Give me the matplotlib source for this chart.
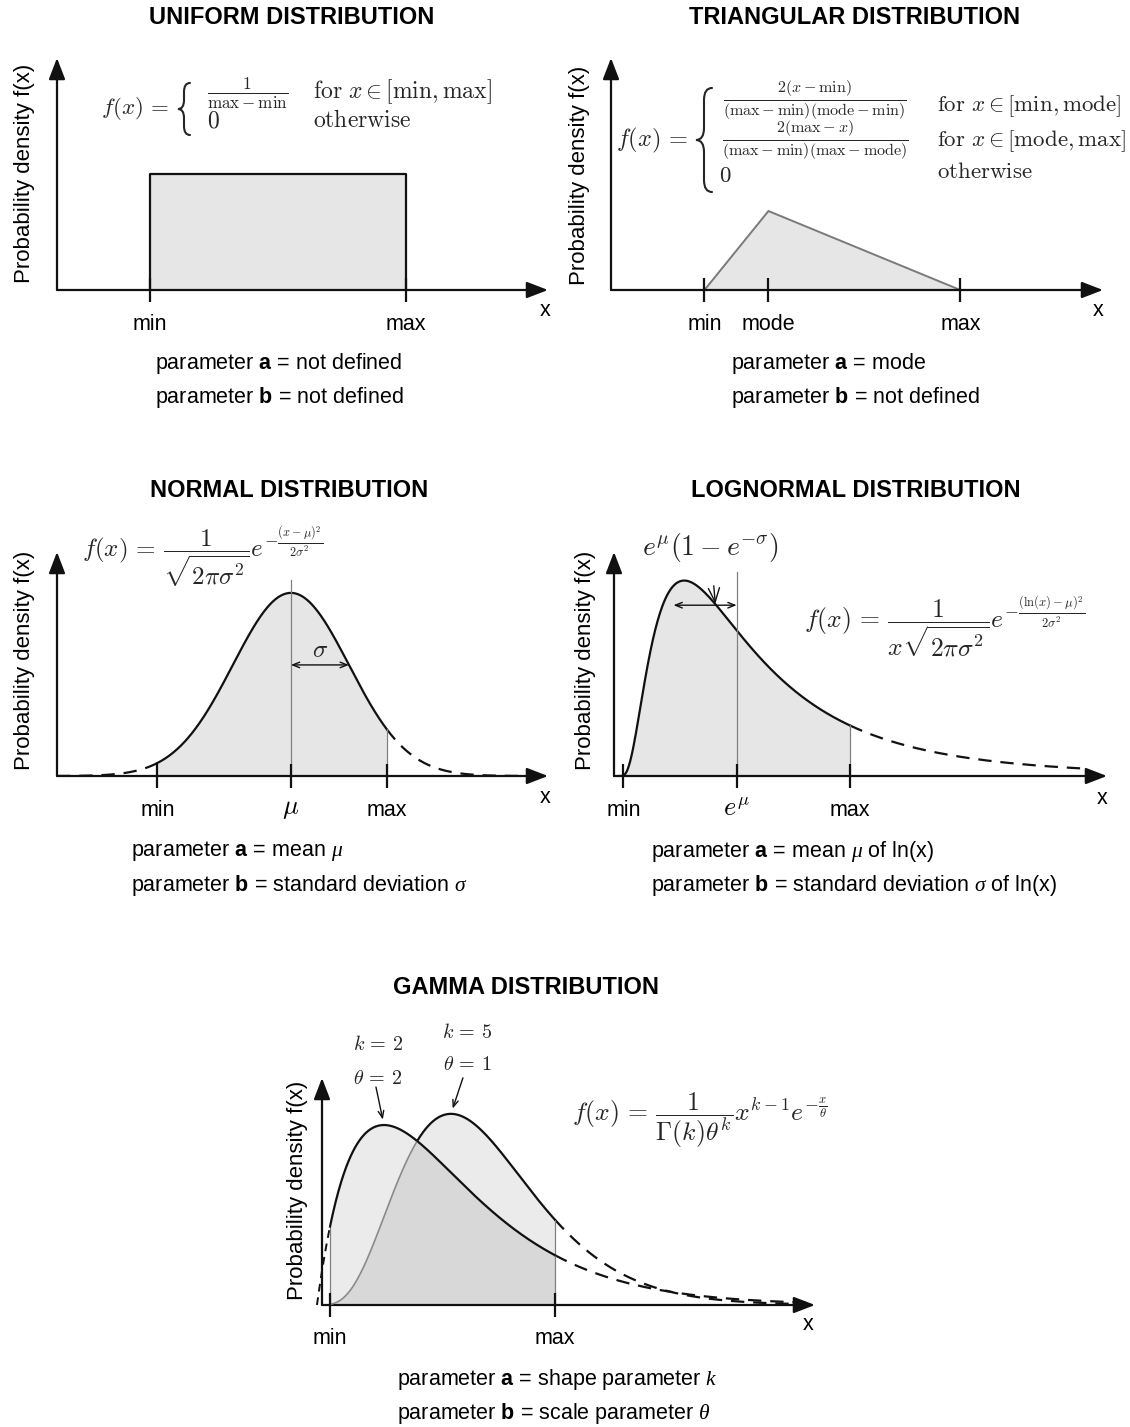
import numpy as np
import matplotlib.pyplot as plt
import matplotlib.transforms as mtransforms
from matplotlib.path import Path
from matplotlib.patches import PathPatch
from math import gamma as gamma_fn

plt.rcParams['font.family'] = 'Liberation Sans'
plt.rcParams['mathtext.fontset'] = 'custom'
plt.rcParams['mathtext.rm'] = 'Liberation Sans'
plt.rcParams['mathtext.bf'] = 'Liberation Sans:bold'
plt.rcParams['mathtext.it'] = 'Liberation Serif:italic'

W, H = 1130, 1427
fig = plt.figure(figsize=(W / 100, H / 100), dpi=100)

FILL = '#e6e6e6'
GUIDE = '#808080'
INK = '#111111'
FORMULA = '#262626'

# distribution parameters (arbitrary units per panel)
uni_min, uni_max = 1.9, 7.1
tri_min, tri_mode, tri_max = 1.9, 3.2, 7.1
norm_mu, norm_sigma = 0.0, 1.0
norm_min, norm_max = -2.3, 1.65
logn_mu, logn_sigma = 0.0, 0.767
logn_min, logn_max = 0.04, 1.96
gam_k = [2, 5]
gam_theta = [2.0, 1.0]
gam_min, gam_max = 0.39, 7.1


def normal_pdf(x, mu, s):
    return np.exp(-(x - mu) ** 2 / (2 * s * s)) / np.sqrt(2 * np.pi * s * s)


def lognormal_pdf(x, mu, s):
    x = np.asarray(x, dtype=float)
    out = np.zeros_like(x)
    pos = x > 0
    out[pos] = np.exp(-(np.log(x[pos]) - mu) ** 2 / (2 * s * s)) / (x[pos] * np.sqrt(2 * np.pi * s * s))
    return out


def gamma_pdf(x, k, th):
    x = np.clip(np.asarray(x, dtype=float), 0, None)
    return x ** (k - 1) * np.exp(-x / th) / (gamma_fn(k) * th ** k)


# ---- layout helpers (pixel coords, origin top-left) ----
PIX = mtransforms.Affine2D().scale(1 / W, -1 / H).translate(0, 1) + fig.transFigure


def put(x, y, s, size=15.5, ha='left', va='center', **kw):
    fig.text(x / W, 1 - y / H, s, fontsize=size, ha=ha, va=va, **kw)


def formula(x, y, s, size=15.5, ha='left'):
    put(x, y, s, size=size, ha=ha, color=FORMULA, math_fontfamily='cm')


def brace(xl, xr, y0, y1):
    # curly brace opening to the right, tip on the left
    xc = 0.5 * (xl + xr)
    ym = 0.5 * (y0 + y1)
    r = (xr - xl) * 0.75
    verts = [(xr, y0), (xc, y0), (xc, y0 + r), (xc, ym - r), (xc, ym), (xl, ym),
             (xc, ym), (xc, ym + r), (xc, y1 - r), (xc, y1), (xr, y1)]
    codes = [Path.MOVETO, Path.CURVE3, Path.CURVE3, Path.LINETO, Path.CURVE3, Path.CURVE3,
             Path.CURVE3, Path.CURVE3, Path.LINETO, Path.CURVE3, Path.CURVE3]
    fig.add_artist(PathPatch(Path(verts, codes), transform=PIX, fc='none', ec=FORMULA,
                             lw=1.5, capstyle='round'))


def panel(left, base, tip_x, tip_y, xlim, ylim):
    ax = fig.add_axes([left / W, 1 - base / H, (tip_x - left) / W, (base - tip_y) / H])
    ax.set_xlim(*xlim)
    ax.set_ylim(*ylim)
    ax.axis('off')
    arrow = dict(arrowstyle='-|>,head_length=1.3,head_width=0.5', color=INK, lw=1.6,
                 shrinkA=0, shrinkB=0, mutation_scale=10)
    ax.annotate('', xy=(1, 0), xytext=(0, 0), xycoords='axes fraction', arrowprops=arrow,
                annotation_clip=False)
    ax.annotate('', xy=(0, 1), xytext=(0, 0), xycoords='axes fraction', arrowprops=arrow,
                annotation_clip=False)
    return ax


def ticks(ax, xs, labels, dy=-35):
    for xv, lab in zip(xs, labels):
        ax.plot([xv], [0], marker='|', ms=17, mew=1.6, color=INK, clip_on=False, zorder=5)
        is_math = lab.startswith('$')
        ax.annotate(lab, xy=(xv, 0), xycoords=('data', 'axes fraction'),
                    xytext=(0, dy + (2 if is_math else 0)),
                    textcoords='offset pixels', ha='center', va='center',
                    fontsize=19 if is_math else 15.5,
                    math_fontfamily='cm', annotation_clip=False)


def guide(ax, xv, top):
    ax.plot([xv, xv], [0, top], color=GUIDE, lw=0.9, zorder=3)


DASH = (0, (6, 4))
SMALL_ARROW = dict(arrowstyle='->,head_length=0.5,head_width=0.2', lw=1, color=INK)
DOUBLE_ARROW = dict(arrowstyle='<->,head_length=0.5,head_width=0.2', lw=1, color=INK,
                    shrinkA=0, shrinkB=0)

# ---------------- UNIFORM ----------------
put(292, 18, 'UNIFORM DISTRIBUTION', 17, ha='center', weight='bold')
put(25, 173, 'Probability density f(x)', 16, ha='center', rotation=90)
ax1 = panel(57, 290, 548, 58, (0, 10), (0, 0.385))
uni_h = 1 / (uni_max - uni_min)
ax1.fill_between([uni_min, uni_max], [uni_h, uni_h], color=FILL, lw=0)
ax1.plot([uni_min, uni_min, uni_max, uni_max], [0, uni_h, uni_h, 0], color=INK, lw=1.6)
ticks(ax1, [uni_min, uni_max], ['min', 'max'])
put(545, 310, 'x', ha='center')
formula(101, 108, r'$f(x)\,=$', 16.5)
brace(178, 190, 83, 135)
formula(248, 93, r'$\frac{1}{\mathrm{max}-\mathrm{min}}$', 17.5, ha='center')
formula(207, 121, r'$0$', 17)
formula(313, 92, r'$\mathrm{for}\ x \in [\mathrm{min}, \mathrm{max}]$', 17)
formula(313, 121, r'$\mathrm{otherwise}$', 17)
put(155, 363, r'parameter $\mathbf{a}$ = not defined')
put(155, 398, r'parameter $\mathbf{b}$ = not defined')

# ---------------- TRIANGULAR ----------------
put(855, 18, 'TRIANGULAR DISTRIBUTION', 17, ha='center', weight='bold')
put(580, 175, 'Probability density f(x)', 16, ha='center', rotation=90)
ax2 = panel(611, 290, 1103, 58, (0, 10), (0, 1.13))
tri_h = 2 / (tri_max - tri_min)
ax2.fill([tri_min, tri_mode, tri_max], [0, tri_h, 0], facecolor=FILL, edgecolor='#7a7a7a', lw=1.4)
ticks(ax2, [tri_min, tri_mode, tri_max], ['min', 'mode', 'max'])
put(1098, 310, 'x', ha='center')
formula(616, 140, r'$f(x)\,=$', 17.5)
brace(696, 712, 88, 192)
formula(815, 100, r'$\frac{2(x-\mathrm{min})}{(\mathrm{max}-\mathrm{min})(\mathrm{mode}-\mathrm{min})}$',
        16.5, ha='center')
formula(815, 140, r'$\frac{2(\mathrm{max}-x)}{(\mathrm{max}-\mathrm{min})(\mathrm{max}-\mathrm{mode})}$',
        16.5, ha='center')
formula(719, 175, r'$0$', 16.5)
formula(937, 106, r'$\mathrm{for}\ x \in [\mathrm{min}, \mathrm{mode}]$', 16.5)
formula(937, 141, r'$\mathrm{for}\ x \in [\mathrm{mode}, \mathrm{max}]$', 16.5)
formula(937, 172, r'$\mathrm{otherwise}$', 16.5)
put(731, 363, r'parameter $\mathbf{a}$ = mode')
put(731, 398, r'parameter $\mathbf{b}$ = not defined')

# ---------------- NORMAL ----------------
put(289, 491, 'NORMAL DISTRIBUTION', 17, ha='center', weight='bold')
put(25, 660, 'Probability density f(x)', 16, ha='center', rotation=90)
ax3 = panel(57, 776, 548, 552, (-4.03, 4.43), (0, 0.488))
xs = np.linspace(norm_min, norm_max, 300)
ys = normal_pdf(xs, norm_mu, norm_sigma)
ax3.fill_between(xs, ys, color=FILL, lw=0)
ax3.plot(xs, ys, color=INK, lw=1.6)
xl = np.linspace(-4.03, norm_min, 100)
ax3.plot(xl, normal_pdf(xl, norm_mu, norm_sigma), color=INK, lw=1.6, ls=DASH)
xr = np.linspace(norm_max, 4.3, 150)
ax3.plot(xr, normal_pdf(xr, norm_mu, norm_sigma), color=INK, lw=1.6, ls=DASH)
guide(ax3, norm_mu, 0.427)
guide(ax3, norm_max, normal_pdf(norm_max, norm_mu, norm_sigma))
y_sig = normal_pdf(norm_mu + norm_sigma, norm_mu, norm_sigma)
ax3.annotate('', xy=(norm_mu + norm_sigma, y_sig), xytext=(norm_mu, y_sig), arrowprops=DOUBLE_ARROW)
ax3.annotate(r'$\sigma$', xy=(norm_mu + norm_sigma / 2, y_sig), xytext=(0, 15),
             textcoords='offset pixels', ha='center', va='center', fontsize=18,
             math_fontfamily='cm', color=FORMULA)
ticks(ax3, [norm_min, norm_mu, norm_max], ['min', r'$\mu$', 'max'])
put(545, 797, 'x', ha='center')
formula(82, 557, r'$f(x)\,=\,\dfrac{1}{\sqrt{2\pi\sigma^2}}e^{-\frac{(x-\mu)^2}{2\sigma^2}}$', 18)
put(131, 851, r'parameter $\mathbf{a}$ = mean $\mu$')
put(131, 886, r'parameter $\mathbf{b}$ = standard deviation $\sigma$')

# ---------------- LOGNORMAL ----------------
put(856, 491, 'LOGNORMAL DISTRIBUTION', 17, ha='center', weight='bold')
put(585, 660, 'Probability density f(x)', 16, ha='center', rotation=90)
ax4 = panel(614, 776, 1107, 552, (-0.04, 4.14), (0, 0.80))
xs = np.linspace(logn_min, logn_max, 400)
ys = lognormal_pdf(xs, logn_mu, logn_sigma)
ax4.fill_between(xs, ys, color=FILL, lw=0)
ax4.plot(xs, ys, color=INK, lw=1.6)
xl = np.linspace(0.001, logn_min, 20)
ax4.plot(xl, lognormal_pdf(xl, logn_mu, logn_sigma), color=INK, lw=1.6)
xr = np.linspace(logn_max, 3.95, 200)
ax4.plot(xr, lognormal_pdf(xr, logn_mu, logn_sigma), color=INK, lw=1.6, ls=DASH)
median = np.exp(logn_mu)
guide(ax4, median, 0.727)
guide(ax4, logn_max, lognormal_pdf([logn_max], logn_mu, logn_sigma)[0])
y_w = 0.61
ax4.annotate('', xy=(median * np.exp(-logn_sigma), y_w), xytext=(median, y_w), arrowprops=DOUBLE_ARROW)
ax4.annotate(r'$e^{\mu}(1-e^{-\sigma})$', xy=(0.82, y_w), xytext=(-5, 58),
             textcoords='offset pixels', ha='center', va='center', fontsize=20,
             math_fontfamily='cm', color=FORMULA,
             arrowprops=dict(SMALL_ARROW, shrinkA=14, shrinkB=1))
ticks(ax4, [logn_min, median, logn_max], ['min', r'$e^{\mu}$', 'max'])
put(1102, 799, 'x', ha='center')
formula(804, 627, r'$f(x)\,=\,\dfrac{1}{x\sqrt{2\pi\sigma^2}}e^{-\frac{(\ln(x)-\mu)^2}{2\sigma^2}}$', 18.5)
put(651, 851, r'parameter $\mathbf{a}$ = mean $\mu$ of ln(x)')
put(651, 886, r'parameter $\mathbf{b}$ = standard deviation $\sigma$ of ln(x)')

# ---------------- GAMMA ----------------
put(526, 987, 'GAMMA DISTRIBUTION', 17, ha='center', weight='bold')
put(297, 1190, 'Probability density f(x)', 16, ha='center', rotation=90)
ax5 = panel(322, 1305, 815, 1078, (0.15, 14.87), (0, 0.232))
xs = np.linspace(gam_min, gam_max, 400)
g2 = gamma_pdf(xs, gam_k[0], gam_theta[0])
g5 = gamma_pdf(xs, gam_k[1], gam_theta[1])
ax5.fill_between(xs, g2, color='black', alpha=0.08, lw=0)
ax5.fill_between(xs, g5, color='black', alpha=0.08, lw=0)
cross = xs[np.argmax(g5 > g2)]
ax5.plot(xs, g2, color=INK, lw=1.6, zorder=4)
ax5.plot(xs[xs <= cross], g5[xs <= cross], color='#8a8a8a', lw=1.2, zorder=4)
ax5.plot(xs[xs >= cross], g5[xs >= cross], color=INK, lw=1.6, zorder=4)
xl = np.linspace(0, gam_min, 20)
ax5.plot(xl, gamma_pdf(xl, gam_k[0], gam_theta[0]), color=INK, lw=1.4, ls=(0, (4, 3)), clip_on=False)
xr = np.linspace(gam_max, 14.6, 200)
for k, th in zip(gam_k, gam_theta):
    ax5.plot(xr, gamma_pdf(xr, k, th), color=INK, lw=1.6, ls=DASH)
guide(ax5, gam_min, gamma_pdf(gam_min, gam_k[0], gam_theta[0]))
guide(ax5, gam_max, gamma_pdf(gam_max, gam_k[1], gam_theta[1]))
ticks(ax5, [gam_min, gam_max], ['min', 'max'], dy=-33)
put(808, 1325, 'x', ha='center')
label_offsets = [(-8, 38), (12, 36)]
for (k, th), off in zip(zip(gam_k, gam_theta), label_offsets):
    mode = th * (k - 1)
    ax5.annotate('', xy=(mode, gamma_pdf(mode, k, th)), xytext=off, textcoords='offset pixels',
                 arrowprops=dict(SMALL_ARROW, shrinkA=0, shrinkB=4))
formula(378, 1045, r'$k\,=\,%d$' % gam_k[0], 14.5, ha='center')
formula(378, 1078, r'$\theta\,=\,%d$' % gam_theta[0], 14.5, ha='center')
formula(467, 1033, r'$k\,=\,%d$' % gam_k[1], 14.5, ha='center')
formula(467, 1065, r'$\theta\,=\,%d$' % gam_theta[1], 14.5, ha='center')
formula(572, 1120, r'$f(x)\,=\,\dfrac{1}{\Gamma(k)\theta^k}x^{k-1}e^{-\frac{x}{\theta}}$', 18.5)
put(397, 1379, r'parameter $\mathbf{a}$ = shape parameter $k$')
put(397, 1414, r'parameter $\mathbf{b}$ = scale parameter $\theta$')

fig.savefig('out.png', dpi=100)
